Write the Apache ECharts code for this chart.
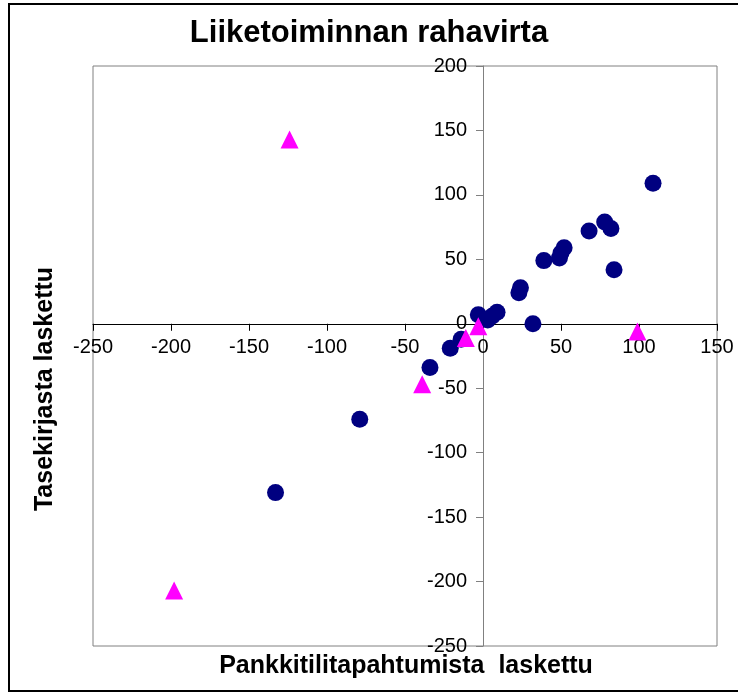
<!DOCTYPE html>
<html>
<head>
<meta charset="utf-8">
<script src="https://cdn.jsdelivr.net/npm/echarts@6/dist/echarts.min.js"></script>
<style>
html, body { margin: 0; padding: 0; background: #fff; }
#main { width: 738px; height: 692px; }
</style>
</head>
<body>
<div id="main"></div>
<script>
// values: [bank transactions, balance sheet]
var circlePoints = [
  [109, 109], [68, 72], [78, 79], [82, 74], [84, 42],
  [52, 59], [50, 55], [49, 51], [39, 49], [24, 28], [23, 24],
  [32, 0], [9, 9], [6, 6], [3, 3], [-3, 7],
  [-14, -12], [-21, -19], [-34, -34], [-79, -74], [-133, -131]
];
var trianglePoints = [
  [-124, 143], [-198, -207], [-39, -47], [-11, -11], [-3, -2], [99, -6]
];
var xMin = -250, xMax = 150, yMin = -250, yMax = 200, step = 50;

var font = "'Liberation Sans', Arial, sans-serif";
var gridLeft = 93, gridTop = 66, gridW = 624, gridH = 580;
// move the axes onto the zero lines (labels and ticks go with them)
var xAxisOffset = -(gridH * (0 - yMin) / (yMax - yMin));
var yAxisOffset = -(gridW * (0 - xMin) / (xMax - xMin));

var myChart = echarts.init(document.getElementById('main'));

var option = {
  animation: false,
  backgroundColor: '#fff',
  title: {
    text: 'Liiketoiminnan rahavirta',
    left: 'center',
    top: 13,
    textStyle: { fontFamily: font, fontSize: 31, fontWeight: 'bold', color: '#000' }
  },
  grid: {
    left: gridLeft, top: gridTop, width: gridW, height: gridH,
    show: true, borderColor: '#808080', borderWidth: 1
  },
  xAxis: {
    type: 'value',
    min: xMin, max: xMax, interval: step,
    offset: xAxisOffset,
    axisLine: { onZero: false, lineStyle: { color: '#000', width: 1 } },
    axisTick: { show: true, length: 7, lineStyle: { color: '#000' } },
    axisLabel: { margin: 14, fontFamily: font, fontSize: 20, color: '#000' },
    splitLine: { show: false }
  },
  yAxis: {
    type: 'value',
    min: yMin, max: yMax, interval: step,
    offset: yAxisOffset,
    axisLine: { onZero: false, lineStyle: { color: '#808080', width: 1 } },
    axisTick: { show: true, length: 7, lineStyle: { color: '#808080' } },
    axisLabel: { margin: 16, fontFamily: font, fontSize: 20, color: '#000' },
    splitLine: { show: false }
  },
  graphic: [
    {
      type: 'rect', silent: true, z: -1,
      shape: { x: 9, y: 4, width: 740, height: 687 },
      style: { fill: 'none', stroke: '#000', lineWidth: 2 }
    },
    {
      type: 'text', x: 406, y: 666,
      style: {
        text: 'Pankkitilitapahtumista  laskettu',
        font: 'bold 25px ' + font, fill: '#000',
        align: 'center', verticalAlign: 'middle'
      }
    },
    {
      type: 'text', x: 45, y: 389, rotation: Math.PI / 2,
      style: {
        text: 'Tasekirjasta laskettu',
        font: 'bold 25px ' + font, fill: '#000',
        align: 'center', verticalAlign: 'middle'
      }
    }
  ],
  series: [
    {
      type: 'scatter',
      symbol: 'circle',
      symbolSize: 17,
      itemStyle: { color: '#000080', opacity: 1 },
      data: circlePoints
    },
    {
      type: 'scatter',
      symbol: 'triangle',
      symbolSize: [18, 18],
      itemStyle: { color: '#FF00FF', opacity: 1 },
      data: trianglePoints
    }
  ]
};
myChart.setOption(option);
</script>
</body>
</html>
